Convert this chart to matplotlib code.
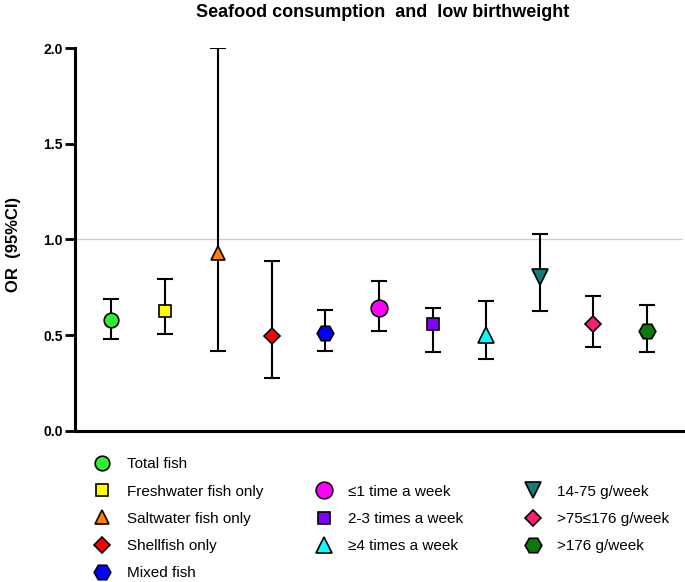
import matplotlib
matplotlib.use('Agg')
import matplotlib.pyplot as plt

plt.rcParams['font.family'] = ['Liberation Sans', 'DejaVu Sans']

labels = ['Total fish', 'Freshwater fish only', 'Saltwater fish only', 'Shellfish only',
          'Mixed fish', '\u22641 time a week', '2-3 times a week', '\u22654 times a week',
          '14-75 g/week', '>75\u2264176 g/week', '>176 g/week']
odds = [0.58, 0.627, 0.93, 0.494, 0.512, 0.641, 0.56, 0.50, 0.806, 0.559, 0.522]
lower = [0.48, 0.508, 0.418, 0.275, 0.416, 0.524, 0.413, 0.378, 0.625, 0.44, 0.413]
upper = [0.688, 0.794, 2.0, 0.889, 0.632, 0.783, 0.644, 0.68, 1.027, 0.707, 0.66]

markers = ['o', 's', '^', 'D', 'H', 'o', 's', '^', 'v', 'D', 'H']
colors = ['#33ee33', '#ffff00', '#ff8000', '#ff0000', '#0000ff', '#ff00ff',
          '#8000ff', '#00ffff', '#157a7a', '#ff1a75', '#0a7a0a']
sizes = [10.5, 9, 10.5, 8.5, 12, 12, 9, 11.5, 11.5, 8.5, 12]

fig = plt.figure(figsize=(6.85, 5.82), dpi=100)
ax = fig.add_axes([0.109, 0.2595, 0.888, 0.658])

ax.axhline(1.0, color='#cccccc', lw=0.9, zorder=0)

handles = []
for i in range(len(labels)):
    x = i + 1
    ax.errorbar([x], [odds[i]], yerr=[[odds[i] - lower[i]], [upper[i] - odds[i]]],
                fmt='none', ecolor='black', elinewidth=1.5, capsize=6, capthick=1.5, zorder=2)
    h, = ax.plot([x], [odds[i]], marker=markers[i], ms=sizes[i], color=colors[i],
                 mec='black', mew=1.2, ls='none', zorder=3, label=labels[i])
    handles.append(h)

ax.set_xlim(0.32, 11.67)
ax.set_ylim(0, 2.0)
ax.set_yticks([0.0, 0.5, 1.0, 1.5, 2.0])
ax.set_yticklabels(['0.0', '0.5', '1.0', '1.5', '2.0'], fontweight='bold', fontsize=10)
ax.set_xticks([])
ax.tick_params(axis='y', direction='out', length=7, width=2, pad=1.5)
for s in ['top', 'right']:
    ax.spines[s].set_visible(False)
for s in ['left', 'bottom']:
    ax.spines[s].set_linewidth(2.2)

fig.text(0.02, 0.58, 'OR  (95%CI)', rotation=90, fontweight='bold', fontsize=12,
         ha='center', va='center')
fig.text(0.559, 0.979, 'Seafood consumption  and  low birthweight', fontweight='bold',
         fontsize=13, ha='center', va='center')

leg_kw = dict(frameon=False, fontsize=11, labelspacing=0.86, handletextpad=1.0,
              handlelength=1.2, borderaxespad=0, borderpad=0)
fig.legend(handles=handles[:5], loc='upper left', bbox_to_anchor=(0.136, 0.214), **leg_kw)
fig.legend(handles=handles[5:8], loc='upper left', bbox_to_anchor=(0.459, 0.167), **leg_kw)
fig.legend(handles=handles[8:], loc='upper left', bbox_to_anchor=(0.764, 0.167), **leg_kw)

fig.savefig('out.png', dpi=100)
